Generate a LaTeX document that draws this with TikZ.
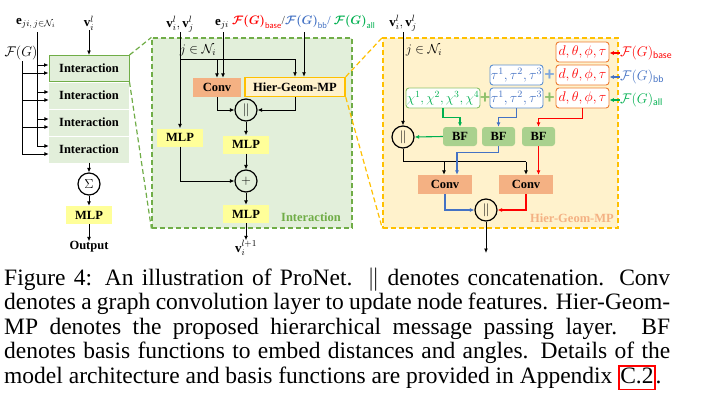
\RequirePackage{fix-cm}
\documentclass[tikz,border=0pt]{standalone}
\usepackage{amsmath,bm,graphicx}
\usepackage{fontspec}
\setmainfont{Liberation Serif}
\setsansfont{Carlito}
\usetikzlibrary{arrows.meta,calc}
\definecolor{igreen}{HTML}{E2EFDA}
\definecolor{dgreen}{HTML}{70AD47}
\definecolor{myellow}{HTML}{FFFF99}
\definecolor{corange}{HTML}{F4B183}
\definecolor{lyellow}{HTML}{FFF2CC}
\definecolor{gold}{HTML}{FFC000}
\definecolor{bfgreen}{HTML}{A9D18E}
\definecolor{porange}{HTML}{ED7D31}
\definecolor{pblue}{HTML}{5B8FD0}
\definecolor{pgreen}{HTML}{8CC36A}
\definecolor{fred}{HTML}{FF0000}
\definecolor{fblue}{HTML}{4472C4}
\definecolor{fgreen}{HTML}{00B050}
\definecolor{plblue}{HTML}{7FA7DD}
\definecolor{plgreen}{HTML}{8DBF6A}
\tikzset{
  arr/.style={-{Latex[length=4.5pt,width=4pt]}, line width=0.9pt},
  ln/.style={line width=0.9pt},
  boxfont/.style={font=\fontsize{12.5}{14}\selectfont\bfseries},
  inter/.style={rectangle, fill=igreen, minimum width=80pt, minimum height=26pt, inner sep=0pt, boxfont},
  mlp/.style={rectangle, fill=myellow, minimum width=46pt, minimum height=18pt, inner sep=0pt, boxfont},
  conv/.style={rectangle, fill=corange, minimum width=48pt, minimum height=19pt, inner sep=0pt, boxfont},
  hgmp/.style={rectangle, fill=lyellow, draw=gold, line width=1.5pt, minimum width=100pt, minimum height=19pt, inner sep=0pt, boxfont},
  opcirc/.style={circle, draw, line width=1.2pt, minimum size=22pt, inner sep=0pt, font=\fontsize{13}{15}\selectfont},
  bfbox/.style={rectangle, rounded corners=3pt, fill=bfgreen, minimum width=33pt, minimum height=19pt, inner sep=0pt, boxfont},
  pbox/.style={rectangle, rounded corners=3pt, fill=white, line width=0.9pt, minimum height=20pt, inner sep=0pt, font=\fontsize{14}{16}\selectfont},
  lab/.style={font=\fontsize{13}{15}\selectfont, inner sep=0pt},
  panel/.style={rectangle, line width=1.2pt, dash pattern=on 5pt off 3pt, inner sep=0pt},
  zoomg/.style={draw=dgreen, line width=1.2pt, dash pattern=on 5pt off 3pt},
  zoomo/.style={draw=gold, line width=1.2pt, dash pattern=on 5pt off 3pt},
  plus/.style={font=\fontsize{19}{19}\selectfont\sffamily\bfseries, inner sep=0pt},
  capline/.style={anchor=base west, inner sep=0pt, font=\fontsize{23.5}{28}\selectfont},
}
\begin{document}
\begin{tikzpicture}[x=1pt,y=-1pt]
\useasboundingbox[fill=white] (0,0) rectangle (705,405);

% ---------------- left column ----------------
\node[lab] (eL) at (36,23) {$\mathbf{e}_{ji,\,j\in\mathcal{N}_i}$};
\node[lab, font=\fontsize{14}{16}\selectfont] (FL) at (21,53) {$\mathcal{F}(G)$};
\node[lab] (vL) at (89,23) {$\mathbf{v}_i^l$};
\node[inter, draw=dgreen, line width=1pt] (b1) at (89,68.5) {Interaction};
\node[inter] (b2) at (89,95.5) {Interaction};
\node[inter] (b3) at (89,122.5) {Interaction};
\node[inter] (b4) at (89,149.5) {Interaction};
\coordinate (eT) at (37,32);
\coordinate (FT) at (22,61);
\foreach \b in {b1,b2,b3,b4} {
  \coordinate (\b e) at ($(\b.west)+(0,-3.5)$);
  \coordinate (\b f) at ($(\b.west)+(0,4.5)$);
}
\draw[arr] (eT) |- (b4e);
\draw[arr] (FT) |- (b4f);
\foreach \b in {b1,b2,b3} {
  \draw[arr] (\b e -| eT) -- (\b e);
  \draw[arr] (\b f -| FT) -- (\b f);
}
\draw[arr] (vL.south) -- (b1.north);
\node[opcirc] (sig) at (89,184) {$\Sigma$};
\draw[arr] (b4.south) -- (sig.north);
\node[mlp] (mlpL) at (89,215) {MLP};
\draw[arr] (sig) -- (mlpL);
\node[boxfont, inner sep=0pt] (out) at (89,247) {Output};
\draw[arr] (mlpL) -- (out);

% ---------------- panels ----------------
\node[panel, fill=igreen, draw=dgreen, minimum width=200pt, minimum height=190pt] (P1) at (252,133) {};
\node[panel, fill=lyellow, draw=gold, minimum width=235pt, minimum height=190pt] (P2) at (500.5,133) {};
\draw[zoomg] (b1.north east) -- (P1.north west);
\draw[zoomg] (b1.south east) -- (P1.south west);

% ---------------- interaction panel ----------------
\node[lab] (vM) at (180,24) {$\mathbf{v}_i^l,\mathbf{v}_j^l$};
\node[lab] (eM) at (222,24) {$\mathbf{e}_{ji}$};
\node[lab, anchor=west, font=\fontsize{14}{16}\selectfont] (FM) at (232,22) {\resizebox{143pt}{!}{\textcolor{fred}{$\bm{\mathcal{F}(G)}_{\textsf{base}}$}\textcolor{black!70}{/}\textcolor{fblue}{$\bm{\mathcal{F}(G)}_{\textsf{bb}}$/} \textcolor{fgreen}{$\bm{\mathcal{F}(G)}_{\textsf{all}}$}}};
\coordinate (vMb) at (180,32);
\coordinate (eMb) at (223,32);
\coordinate (FMb) at (304,32);
\node[conv] (cvM) at (217,87.5) {Conv};
\node[hgmp] (hg) at (295,87) {Hier-Geom-MP};
\node[lab] (jM) at (198,50) {$j\in\mathcal{N}_i$};
\node[opcirc] (cc1) at (246,110) {$\|$};
\node[mlp] (mlpA) at (180,137.5) {MLP};
\node[mlp] (mlpB) at (246,144.5) {MLP};
\node[opcirc] (pl) at (246,181) {$+$};
\node[mlp] (mlpC) at (246,214) {MLP};
\node[lab] (vOut) at (246,248) {$\mathbf{v}_i^{l+1}$};
\node[boxfont, text=dgreen, inner sep=0pt] (intl) at (311,217) {Interaction};
\coordinate (jn) at (180,59);
\coordinate (jc) at (jn -| cvM.north);
\draw[arr] (vMb) -- (mlpA.north);
\draw[arr] (jn) -| (hg.north);
\draw[arr] (jc) -- (cvM.north);
\draw[arr] (eMb) -- (eMb |- cvM.north);
\draw[arr] (FMb) -- (FMb |- hg.north);
\draw[arr] (cvM.south) |- (cc1.west);
\draw[arr] (hg.south) |- (cc1.east);
\draw[arr] (cc1) -- (mlpB);
\draw[arr] (mlpB) -- (pl);
\draw[arr] (mlpA.south) |- (pl.west);
\draw[arr] (pl) -- (mlpC);
\draw[arr] (mlpC) -- (vOut);
\draw[zoomo] (hg.north east) -- (P2.north west);
\draw[zoomo] (hg.south east) -- (P2.south west);

% ---------------- Hier-Geom-MP panel ----------------
\node[lab] (vR) at (403,23) {$\mathbf{v}_i^l,\mathbf{v}_j^l$};
\coordinate (vRb) at (403,32);
\node[lab] (jR) at (424,50) {$j\in\mathcal{N}_i$};
\node[pbox, draw=porange, text=fred, minimum width=53pt] (r1) at (582.5,52) {$d,\theta,\phi,\tau$};
\node[pbox, draw=porange, text=fred, minimum width=53pt] (r2) at (582.5,75) {$d,\theta,\phi,\tau$};
\node[pbox, draw=porange, text=fred, minimum width=53pt] (r3) at (582.5,98) {$d,\theta,\phi,\tau$};
\node[pbox, draw=pblue, text=fblue, minimum width=53pt] (u1) at (516.5,75) {$\tau^1,\tau^2,\tau^3$};
\node[pbox, draw=pblue, text=fblue, minimum width=53pt] (u2) at (516.5,98) {$\tau^1,\tau^2,\tau^3$};
\node[pbox, draw=pgreen, text=fgreen, minimum width=74pt, font=\fontsize{13.5}{16}\selectfont] (g1) at (443,98) {$\chi^1,\chi^2,\chi^3,\chi^4$};
\node[plus, text=plblue] (p1) at (549.5,75) {+};
\node[plus, text=plgreen] (p2) at (549.5,98) {+};
\node[plus, text=plgreen] (p3) at (485,98) {+};
\node[lab, anchor=west, text=fred, font=\fontsize{14}{16}\selectfont] (Fb) at (620,53) {$\mathcal{F}(G)_{\textsf{base}}$};
\node[lab, anchor=west, text=fblue, font=\fontsize{14}{16}\selectfont] (Fbb) at (620,77) {$\mathcal{F}(G)_{\textsf{bb}}$};
\node[lab, anchor=west, text=fgreen, font=\fontsize{14}{16}\selectfont] (Fall) at (620,100) {$\mathcal{F}(G)_{\textsf{all}}$};
\draw[arr, fred, line width=1.2pt] (Fb.west) -- (Fb.west -| r1.east);
\draw[arr, fblue, line width=1.2pt] (Fbb.west) -- (Fbb.west -| r2.east);
\draw[arr, fgreen, line width=1.2pt] (Fall.west) -- (Fall.west -| r3.east);
\node[bfbox, minimum width=34pt] (bf1) at (460,136.5) {BF};
\node[bfbox] (bf2) at (498.5,136.5) {BF};
\node[bfbox] (bf3) at (538.5,136.5) {BF};
\node[opcirc] (cc2) at (403,137) {$\|$};
\draw[arr] (vRb) -- (cc2.north);
\draw[arr, fgreen, line width=1.1pt] (g1.south) -- ++(0,9) -| (bf1.north);
\draw[arr, fblue, line width=1.1pt] (u2.south) -- ++(0,9) -| (bf2.north);
\draw[arr, fred, line width=1.1pt] (r3.south) -- ++(0,10) -| (bf3.north);
\draw[arr, fgreen, line width=1.1pt] (bf1.west) -- (cc2.east);
\node[conv, minimum width=54pt] (cv1) at (445,184.5) {Conv};
\node[conv, minimum width=54pt] (cv2) at (526,184.5) {Conv};
\coordinate (k1) at ($(cv1.north)+(-1,-13)$);
\coordinate (k2) at ($(cv2.north)+(0,-13)$);
\draw[ln] (cc2.south) |- (k2);
\draw[arr] (k1) -- ++(0,13);
\draw[arr] (k2) -- (cv2.north);
\draw[arr, fblue, line width=1.1pt] (bf2.south) -- ++(0,6) -| ($(cv1.north)+(12,0)$);
\draw[arr, fred, line width=1.1pt] (bf3.south) -- (bf3.south |- cv2.north);
\node[opcirc] (cc3) at (486,210) {$\|$};
\draw[arr, fblue, line width=1.1pt] (cv1.south) |- (cc3.west);
\draw[arr, fred, line width=1.1pt] (cv2.south) |- (cc3.east);
\coordinate (hout) at (486,253);
\draw[arr] (cc3.south) -- (hout);
\node[boxfont, text=corange, inner sep=0pt] (hgl) at (572,218) {Hier-Geom-MP};

% ---------------- caption ----------------
\node[capline] (c1) at (4,285) {\makebox[666pt][s]{Figure 4: An illustration of ProNet. $\|$ denotes concatenation. Conv}};
\node[capline] (c2) at (4,309.5) {\makebox[666pt][s]{denotes a graph convolution layer to update node features. Hier-Geom-}};
\node[capline] (c3) at (4,334) {\makebox[666pt][s]{MP denotes the proposed hierarchical message passing layer. BF}};
\node[capline] (c4) at (4,358.5) {\makebox[666pt][s]{denotes basis functions to embed distances and angles. Details of the}};
\node[capline] (c5) at (4,383) {model architecture and basis functions are provided in Appendix {\setlength\fboxrule{1.4pt}\setlength\fboxsep{0.6pt}\color{fred}\fbox{\color{black}\rule[-5pt]{0pt}{17pt}C.2}}.};
\end{tikzpicture}
\end{document}
